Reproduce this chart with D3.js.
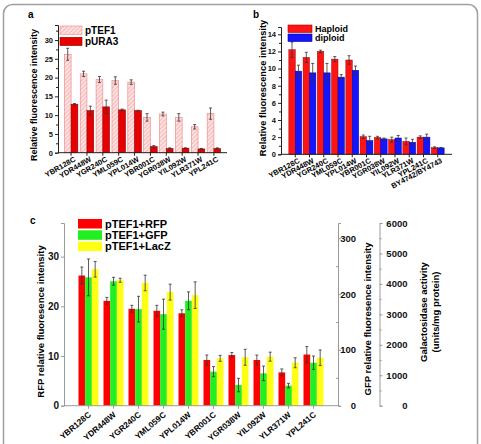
<!DOCTYPE html>
<html>
<head>
<style>
  body { margin: 0; background: #fff; }
  svg text { font-family: "Liberation Sans", Arial, sans-serif; font-weight: bold; }
</style>
</head>
<body>
<script src="https://cdn.jsdelivr.net/npm/d3@7"></script>
<script>
// ---- data ----
const genesA = ["YBR128C","YDR448W","YGR240C","YML059C","YPL014W","YBR001C","YGR038W","YIL092W","YLR371W","YPL241C"];
const pTEF1    = [26.2, 21.0, 19.5, 19.2, 18.8, 9.4, 10.3, 9.4, 6.9, 10.4];
const pTEF1Err = [1.6, 0.7, 0.8, 1.0, 0.6, 1.0, 0.5, 1.0, 0.6, 1.5];
const pURA3    = [12.9, 11.2, 12.2, 11.4, 11.2, 1.6, 1.1, 1.2, 1.0, 1.1];
const pURA3Err = [0.2, 1.2, 1.8, 0.2, 0.1, 0.3, 0.2, 0.1, 0.1, 0.2];
const ticksA = [0, 5, 10, 15, 20, 25, 30];

const genesB = ["YBR128C","YDR448W","YGR240C","YML059C","YPL014W","YBR001C","YGR038W","YIL092W","YLR371W","YPL241C","BY4742/BY4743"];
const haploid    = [12.2, 11.3, 12.0, 11.1, 11.0, 2.05, 1.95, 1.7, 1.5, 2.0, 0.77];
const haploidErr = [0.9, 0.6, 0.15, 0.3, 0.5, 0.2, 0.15, 0.3, 0.4, 0.15, 0.1];
const diploid    = [9.7, 9.5, 9.5, 9.0, 9.8, 1.6, 1.8, 1.9, 1.4, 2.0, 0.75];
const diploidErr = [0.7, 1.1, 1.1, 0.3, 0.5, 0.5, 0.1, 0.3, 0.35, 0.35, 0.05];
const ticksB = [0, 2, 4, 6, 8, 10, 12, 14];

const genesC = genesA;
const rfp     = [26.2, 21.1, 19.5, 19.1, 18.6, 9.2, 10.2, 9.2, 6.7, 10.3];
const rfpErr  = [1.7, 0.7, 0.7, 1.1, 0.7, 1.0, 0.5, 1.0, 0.7, 1.6];
const gfp     = [230, 223, 173, 164, 188, 61, 37, 58, 36, 77];
const gfpErr  = [33, 7, 23, 27, 16, 9, 12, 13, 4, 12];
const lacz    = [4480, 4120, 4030, 3730, 3630, 1555, 1590, 1610, 1410, 1575];
const laczErr = [257, 66, 256, 262, 437, 98, 262, 148, 164, 256];
const ticksRFP = [0, 10, 20, 30];
const ticksGFP = [0, 100, 200, 300];
const ticksGal = [0, 1000, 2000, 3000, 4000, 5000, 6000];

const W = 481, H = 444;
const svg = d3.select("body").append("svg").attr("width", W).attr("height", H);

const defs = svg.append("defs");
const pat = defs.append("pattern").attr("id", "hatch")
  .attr("width", 3).attr("height", 3)
  .attr("patternUnits", "userSpaceOnUse")
  .attr("patternTransform", "rotate(45)");
pat.append("rect").attr("width", 3).attr("height", 3).attr("fill", "#fde2e2");
pat.append("line").attr("x1", 0).attr("y1", 0).attr("x2", 0).attr("y2", 3)
  .attr("stroke", "#f29a9a").attr("stroke-width", 1.2);

// panel border
svg.append("rect").attr("x", 3.5).attr("y", 4.5).attr("width", 474).attr("height", 470)
  .attr("rx", 9).attr("fill", "none").attr("stroke", "#a0a0a0").attr("stroke-width", 1.5);

function styleAxis(g, color) {
  g.select(".domain").attr("stroke", color).attr("stroke-width", 1);
  g.selectAll(".tick line").attr("stroke", color);
  g.selectAll(".tick text").attr("fill", "#111");
}

function bars(g, cats, series, x, y, colors, strokes, stroke) {
  const sub = d3.scaleBand().domain(d3.range(series.length)).range([0, x.bandwidth()]);
  series.forEach((s, k) => {
    g.append("g").selectAll("rect").data(cats).join("rect")
      .attr("x", (d, i) => x(d) + sub(k))
      .attr("y", (d, i) => s.y(s.vals[i]))
      .attr("width", sub.bandwidth())
      .attr("height", (d, i) => s.y(0) - s.y(s.vals[i]))
      .attr("fill", colors[k])
      .attr("stroke", strokes[k]).attr("stroke-width", stroke);
    const eb = g.append("g").attr("stroke", "#333").attr("stroke-width", 0.8);
    cats.forEach((d, i) => {
      const cx = x(d) + sub(k) + sub.bandwidth() / 2;
      const y1 = s.y(s.vals[i] + s.err[i]), y2 = s.y(s.vals[i] - s.err[i]);
      eb.append("line").attr("x1", cx).attr("x2", cx).attr("y1", y1).attr("y2", y2);
      eb.append("line").attr("x1", cx - 1.5).attr("x2", cx + 1.5).attr("y1", y1).attr("y2", y1);
      eb.append("line").attr("x1", cx - 1.5).attr("x2", cx + 1.5).attr("y1", y2).attr("y2", y2);
    });
  });
}

function xLabels(g, cats, x, y0, dx, dy, angle, size) {
  g.append("g").selectAll("text").data(cats).join("text")
    .attr("transform", d => `translate(${x(d) + x.bandwidth() / 2 + dx},${y0 + dy}) rotate(${angle})`)
    .attr("text-anchor", "end").attr("font-size", size).text(d => d);
}

function legend(g, x0, y0, step, sw, sh, items, size) {
  items.forEach((it, i) => {
    g.append("rect").attr("x", x0).attr("y", y0 + i * step).attr("width", sw).attr("height", sh)
      .attr("fill", it.fill).attr("stroke", it.stroke).attr("stroke-width", 0.6);
    g.append("text").attr("x", x0 + sw + 3).attr("y", y0 + i * step + sh / 2 + size * 0.36)
      .attr("font-size", size).text(it.label);
  });
}

// ---- panel a ----
{
  const g = svg.append("g");
  const x = d3.scaleBand().domain(genesA).range([58, 227]).paddingInner(0.15).paddingOuter(0.4);
  const y = d3.scaleLinear().domain([0, 34]).range([152.7, 25]);
  bars(g, genesA, [{vals: pTEF1, err: pTEF1Err, y}, {vals: pURA3, err: pURA3Err, y}], x, y,
    ["url(#hatch)", "#e80000"], ["#f08080", "#8a0000"], 0.6);
  const ya = g.append("g").attr("transform", "translate(58,0)")
    .call(d3.axisLeft(y).tickValues(ticksA).tickSize(3).tickPadding(2))
    .call(a => a.selectAll("text").attr("font-size", 7.5));
  styleAxis(ya, "#222");
  const ym = g.append("g").attr("transform", "translate(58,0)")
    .call(d3.axisLeft(y).tickValues(d3.range(2.5, 34, 5)).tickSize(2).tickFormat(""));
  ym.select(".domain").remove(); ym.selectAll("line").attr("stroke", "#222");
  const xa = g.append("g").attr("transform", "translate(0,152.7)")
    .call(d3.axisBottom(x).tickSize(3).tickFormat(""));
  styleAxis(xa, "#222");
  xa.select(".domain").attr("d", "M58,0H227");
  xLabels(g, genesA, x, 152.7, 5, 8, -30, 7.5);
  g.append("text").attr("transform", "translate(36.5,95) rotate(-90)").attr("text-anchor", "middle")
    .attr("font-size", 9).text("Relative fluorescence intensity");
  g.append("text").attr("x", 28).attr("y", 18).attr("font-size", 10).text("a");
  legend(g, 60, 26, 11.3, 22, 8.3, [
    {fill: "url(#hatch)", stroke: "#f08080", label: "pTEF1"},
    {fill: "#e80000", stroke: "#8a0000", label: "pURA3"}], 10);
}

// ---- panel b ----
{
  const g = svg.append("g");
  const x = d3.scaleBand().domain(genesB).range([281, 452]).paddingInner(0.1).paddingOuter(0.55);
  const y = d3.scaleLinear().domain([0, 14.85]).range([154.3, 27]);
  bars(g, genesB, [{vals: haploid, err: haploidErr, y}, {vals: diploid, err: diploidErr, y}], x, y,
    ["#ff1414", "#1414ff"], ["#a00000", "#0000a0"], 0.5);
  const ya = g.append("g").attr("transform", "translate(281,0)")
    .call(d3.axisLeft(y).tickValues(ticksB).tickSize(3).tickPadding(2))
    .call(a => a.selectAll("text").attr("font-size", 7.5));
  styleAxis(ya, "#222");
  const ym = g.append("g").attr("transform", "translate(281,0)")
    .call(d3.axisLeft(y).tickValues(d3.range(1, 15, 2)).tickSize(2).tickFormat(""));
  ym.select(".domain").remove(); ym.selectAll("line").attr("stroke", "#222");
  const xa = g.append("g").attr("transform", "translate(0,154.3)")
    .call(d3.axisBottom(x).tickSize(3).tickFormat(""));
  styleAxis(xa, "#222");
  xa.select(".domain").attr("d", "M281,0H452");
  xLabels(g, genesB, x, 154.3, 5, 8, -28, 7.5);
  g.append("text").attr("transform", "translate(265.5,88) rotate(-90)").attr("text-anchor", "middle")
    .attr("font-size", 9.3).text("Relative fluorescence intensity");
  g.append("text").attr("x", 253).attr("y", 18).attr("font-size", 10).text("b");
  legend(g, 288, 25, 9, 24, 7.5, [
    {fill: "#ff1414", stroke: "#a00000", label: "Haploid"},
    {fill: "#1414ff", stroke: "#0000a0", label: "diploid"}], 9);
}

// ---- panel c ----
{
  const g = svg.append("g");
  const y0 = 405.7, yTop = 223;
  const x = d3.scaleBand().domain(genesC).range([64, 338]).paddingInner(0.2).paddingOuter(0.58);
  const yR = d3.scaleLinear().domain([0, 36.77]).range([y0, yTop]);
  const yG = d3.scaleLinear().domain([0, 327.4]).range([y0, yTop]);
  const yL = d3.scaleLinear().domain([0, 6000]).range([y0, yTop]);
  bars(g, genesC, [
    {vals: rfp, err: rfpErr, y: yR},
    {vals: gfp, err: gfpErr, y: yG},
    {vals: lacz, err: laczErr, y: yL}], x, yR,
    ["#ff0000", "#22ee22", "#ffff14"], ["none", "none", "none"], 0);
  const axc = "#9a9a9a";
  const ya = g.append("g").attr("transform", "translate(64,0)")
    .call(d3.axisLeft(yR).tickValues(ticksRFP).tickSize(3).tickPadding(2))
    .call(a => a.selectAll("text").attr("font-size", 10));
  styleAxis(ya, axc);
  const yg = g.append("g").attr("transform", "translate(338,0)")
    .call(d3.axisRight(yG).tickValues(ticksGFP).tickSize(3).tickPadding(1))
    .call(a => a.selectAll("text").attr("font-size", 9.5).attr("text-anchor", "end").attr("x", 18));
  styleAxis(yg, axc);
  const ygm = g.append("g").attr("transform", "translate(338,0)")
    .call(d3.axisLeft(yG).tickValues([50, 150, 250]).tickSize(2).tickFormat(""));
  ygm.select(".domain").remove(); ygm.selectAll("line").attr("stroke", axc);
  const yl = g.append("g").attr("transform", "translate(379.5,0)")
    .call(d3.axisRight(yL).tickValues(ticksGal).tickSize(3).tickPadding(1).tickFormat(d3.format("d")))
    .call(a => a.selectAll("text").attr("font-size", 9.5).attr("text-anchor", "end").attr("x", 28));
  styleAxis(yl, axc);
  const ylm = g.append("g").attr("transform", "translate(379.5,0)")
    .call(d3.axisRight(yL).tickValues(d3.range(500, 6000, 1000)).tickSize(2).tickFormat(""));
  ylm.select(".domain").remove(); ylm.selectAll("line").attr("stroke", axc);
  const xa = g.append("g").attr("transform", `translate(0,${y0})`)
    .call(d3.axisBottom(x).tickSize(3).tickFormat(""));
  styleAxis(xa, axc);
  xa.select(".domain").attr("d", "M64,0H338");
  xLabels(g, genesC, x, y0, 3, 10, -40, 8.3);
  g.append("text").attr("transform", "translate(43.5,321.5) rotate(-90)").attr("text-anchor", "middle")
    .attr("font-size", 9.5).text("RFP relative fluoresence intensity");
  g.append("text").attr("transform", "translate(370.5,319) rotate(-90)").attr("text-anchor", "middle")
    .attr("font-size", 9.5).text("GFP relative fluoresence intensity");
  g.append("text").attr("transform", "translate(426.5,312) rotate(-90)").attr("text-anchor", "middle")
    .attr("font-size", 9.5).text("Galactosidase activity");
  g.append("text").attr("transform", "translate(438.5,312) rotate(-90)").attr("text-anchor", "middle")
    .attr("font-size", 9.5).text("(units/mg protein)");
  g.append("text").attr("x", 30).attr("y", 224).attr("font-size", 10).text("c");
  legend(g, 78, 219, 11.3, 24, 9.5, [
    {fill: "#ff0000", stroke: "none", label: "pTEF1+RFP"},
    {fill: "#22ee22", stroke: "none", label: "pTEF1+GFP"},
    {fill: "#ffff14", stroke: "none", label: "pTEF1+LacZ"}], 11);
}
</script>
</body>
</html>
